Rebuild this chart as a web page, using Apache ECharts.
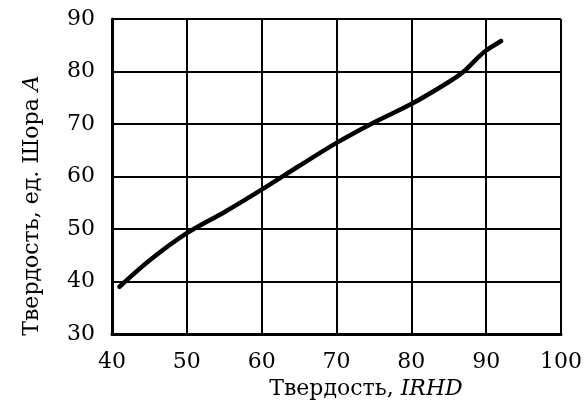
<!DOCTYPE html>
<html>
<head>
<meta charset="utf-8">
<script src="https://cdn.jsdelivr.net/npm/echarts@6/dist/echarts.min.js"></script>
<style>
  html, body { margin: 0; padding: 0; background: #fff; }
  #chart { width: 587px; height: 400px; }
</style>
</head>
<body>
<div id="chart"></div>
<script>
// IRHD hardness vs Shore A hardness
var irhd = [41, 45, 50, 55, 60, 65, 70, 75, 80, 85, 87, 89, 90, 92];
var shoreA = [39, 44, 49.2, 53.2, 57.5, 62, 66.4, 70.3, 73.8, 78, 80, 82.8, 84, 85.8];

var points = irhd.map(function (x, i) { return [x, shoreA[i]]; });

var myChart = echarts.init(document.getElementById('chart'));
var font = '"DejaVu Serif", "Liberation Serif", serif';
var option = {
  animation: false,
  grid: { left: 112, right: 26, top: 19, bottom: 66, outerBoundsMode: 'none' },
  xAxis: {
    type: 'value',
    min: 40, max: 100, interval: 10,
    name: '{n|Твердость, }{i|IRHD}',
    nameLocation: 'middle',
    nameGap: 42,
    nameTextStyle: {
      padding: [0, 0, 0, 59],
      rich: {
        n: { fontFamily: font, fontSize: 22, color: '#000' },
        i: { fontFamily: font, fontSize: 22, color: '#000', fontStyle: 'italic' }
      }
    },
    axisLine: { lineStyle: { color: '#000', width: 3 } },
    axisTick: { show: false },
    axisLabel: { color: '#000', fontFamily: font, fontSize: 22, margin: 17 },
    splitLine: { lineStyle: { color: '#000', width: 2 } }
  },
  yAxis: {
    type: 'value',
    min: 30, max: 90, interval: 10,
    name: '{n|Твердость, ед. Шора }{i|A}',
    nameLocation: 'middle',
    nameGap: 69,
    nameTextStyle: {
      padding: [0, 58, 0, 0],
      rich: {
        n: { fontFamily: font, fontSize: 22, color: '#000' },
        i: { fontFamily: font, fontSize: 22, color: '#000', fontStyle: 'italic' }
      }
    },
    axisLine: { show: true, lineStyle: { color: '#000', width: 3 } },
    axisTick: { show: false },
    axisLabel: { color: '#000', fontFamily: font, fontSize: 22, margin: 17 },
    splitLine: { lineStyle: { color: '#000', width: 2 } }
  },
  series: [{
    type: 'line',
    data: points,
    smooth: 0.3,
    showSymbol: false,
    lineStyle: { color: '#000', width: 4.5, cap: 'round' }
  }]
};
option && myChart.setOption(option);
</script>
</body>
</html>
